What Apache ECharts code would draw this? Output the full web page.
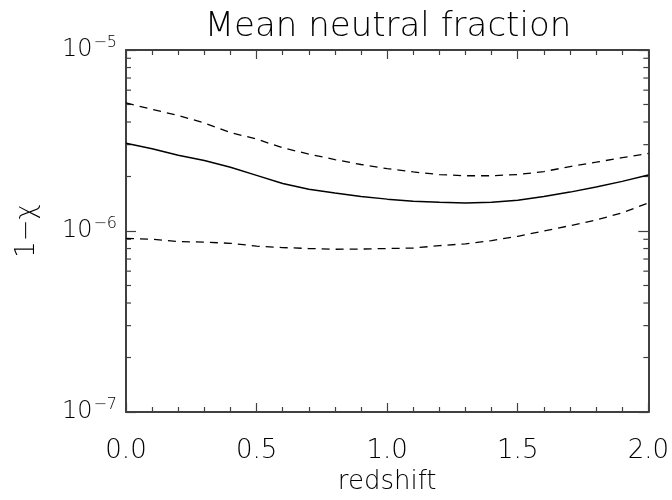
<!DOCTYPE html>
<html>
<head>
<meta charset="utf-8">
<script src="https://cdn.jsdelivr.net/npm/echarts@6/dist/echarts.min.js"></script>
<style>html,body{margin:0;padding:0;background:#fff}#c{width:672px;height:500px}</style>
</head>
<body>
<div id="c"></div>
<script>
const redshift = [0.0,0.1,0.2,0.3,0.4,0.5,0.6,0.7,0.8,0.9,1.0,1.1,1.2,1.3,1.4,1.5,1.6,1.7,1.8,1.9,2.0];
const meanFrac = [3.05e-6,2.85e-6,2.62e-6,2.45e-6,2.25e-6,2.03e-6,1.83e-6,1.70e-6,1.62e-6,1.55e-6,1.50e-6,1.46e-6,1.44e-6,1.43e-6,1.44e-6,1.48e-6,1.55e-6,1.64e-6,1.75e-6,1.88e-6,2.04e-6];
const upperFrac = [5.1e-6,4.7e-6,4.35e-6,3.95e-6,3.5e-6,3.22e-6,2.88e-6,2.66e-6,2.48e-6,2.33e-6,2.21e-6,2.12e-6,2.05e-6,2.02e-6,2.02e-6,2.05e-6,2.13e-6,2.27e-6,2.40e-6,2.54e-6,2.68e-6];
const lowerFrac = [9.1e-7,9.0e-7,8.75e-7,8.68e-7,8.55e-7,8.25e-7,8.1e-7,8.0e-7,7.93e-7,7.95e-7,8.0e-7,8.05e-7,8.3e-7,8.5e-7,8.85e-7,9.35e-7,1.0e-6,1.07e-6,1.15e-6,1.26e-6,1.43e-6];
const yMinorTicks = [2e-7,3e-7,4e-7,5e-7,6e-7,7e-7,8e-7,9e-7,2e-6,3e-6,4e-6,5e-6,6e-6,7e-6,8e-6,9e-6];
const xTickLabels = ['0.0','0.5','1.0','1.5','2.0'];
const yTickExps = {'-7':'−7','-6':'−6','-5':'−5'};

const FONT = "'DejaVu Sans ExtraLight', 'DejaVu Sans', sans-serif";
const AX = '#404040';
const chart = echarts.init(document.getElementById('c'), null, {renderer:'canvas'});
const pair = a => redshift.map((x,i)=>[x,a[i]]);

const xCommon = {
  type:'value', min:0, max:2, interval:0.5,
  axisLine:{show:true, onZero:false, lineStyle:{color:AX, width:2}},
  axisTick:{show:true, inside:true, length:9, lineStyle:{color:AX, width:1.2}},
  minorTick:{show:true, splitNumber:5, length:5, lineStyle:{color:AX, width:1.2}},
  splitLine:{show:false}
};
const yCommon = {
  type:'log', logBase:10, min:1e-7, max:1e-5,
  axisLine:{show:true, onZero:false, lineStyle:{color:AX, width:2}},
  axisTick:{show:true, inside:true, length:10, lineStyle:{color:AX, width:1.2}},
  minorTick:{show:false},
  splitLine:{show:false}
};

chart.setOption({
  animation:false,
  backgroundColor:'#fff',
  title:{text:'Mean neutral fraction', left:388, top:10, textAlign:'center', padding:0,
    textStyle:{fontFamily:FONT, fontWeight:200, fontSize:34, color:'#000'}},
  grid:{left:126, right:22, top:50, bottom:79, containLabel:false},
  xAxis:[
    Object.assign({}, xCommon, {position:'bottom', name:'redshift', nameLocation:'middle', nameGap:57,
      nameTextStyle:{fontFamily:FONT, fontWeight:200, fontSize:26, color:'#000'},
      axisLabel:{show:true, margin:26, fontFamily:FONT, fontWeight:200, fontSize:26, color:'#000',
        formatter:v=>{const s=(Math.round(v*10)/10).toFixed(1); return xTickLabels.indexOf(s)>=0?s:'';}}}),
    Object.assign({}, xCommon, {position:'top', axisLabel:{show:false}})
  ],
  yAxis:[
    Object.assign({}, yCommon, {position:'left', name:'1−χ', nameLocation:'middle', nameGap:86,
      nameTextStyle:{fontFamily:FONT, fontWeight:200, fontSize:26, color:'#000'},
      axisLabel:{show:true, margin:9,
        formatter:v=>{const e=String(Math.round(Math.log10(v))); return '{b|10}{s|'+(yTickExps[e]||e)+'}';},
        rich:{b:{fontFamily:FONT, fontWeight:200, fontSize:24, color:'#000'},
              s:{fontFamily:FONT, fontWeight:200, fontSize:16, color:'#000', padding:[0,0,14,1]}}}}),
    Object.assign({}, yCommon, {position:'right', axisLabel:{show:false}})
  ],
  series:[
    {type:'line', data:pair(meanFrac), showSymbol:false, smooth:false,
      lineStyle:{color:'#000', width:1.5}},
    {type:'line', data:pair(upperFrac), showSymbol:false,
      lineStyle:{color:'#000', width:1.3, type:[8,6]}},
    {type:'line', data:pair(lowerFrac), showSymbol:false,
      lineStyle:{color:'#000', width:1.3, type:[8,6]}},
    {type:'custom', silent:true, data:yMinorTicks.map(v=>[0,v]),
      renderItem:(params, api)=>{
        const v = api.value(1);
        const l = api.coord([0, v]); const r = api.coord([2, v]);
        const st = {stroke:AX, lineWidth:1.2};
        return {type:'group', children:[
          {type:'line', shape:{x1:l[0], y1:l[1], x2:l[0]+5, y2:l[1]}, style:st},
          {type:'line', shape:{x1:r[0]-5, y1:r[1], x2:r[0], y2:r[1]}, style:st}
        ]};
      }}
  ]
});
</script>
</body>
</html>
